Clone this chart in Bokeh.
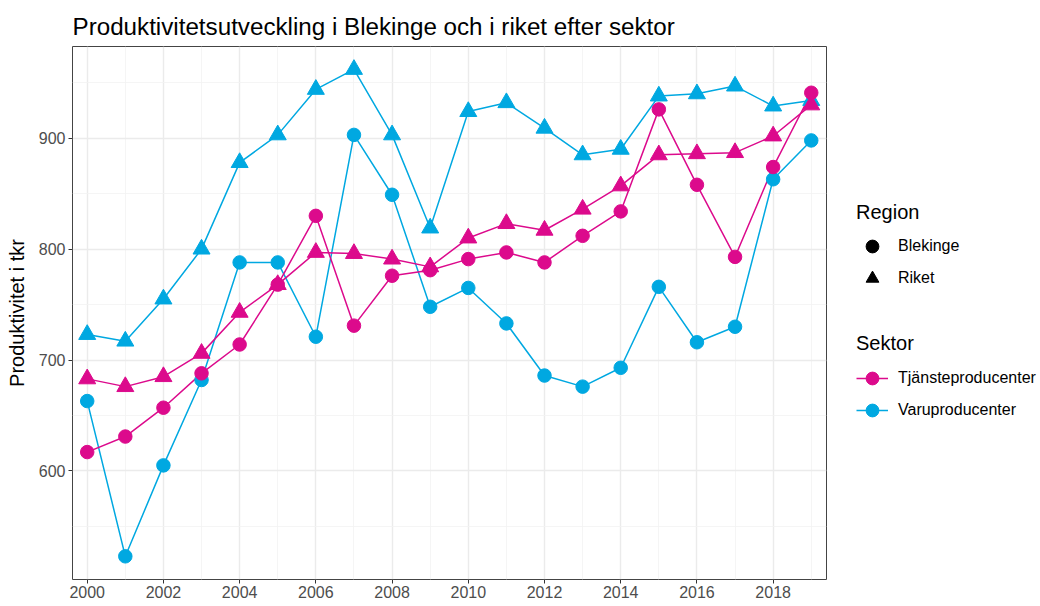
from bokeh.plotting import figure
from bokeh.models import (Range1d, FixedTicker, Legend, LegendItem, ColumnDataSource)
from bokeh.layouts import row
from bokeh.embed import file_html
from bokeh.resources import INLINE

# ---------------- data ----------------
years = list(range(2000, 2020))
varu_riket = [723, 717, 755, 800, 878, 903, 944, 962, 903, 819,
              924, 932, 909, 885, 890, 938, 940, 947, 929, 934]
varu_blekinge = [663, 523, 605, 682, 788, 788, 721, 903, 849, 748,
                 765, 733, 686, 676, 693, 766, 716, 730, 863, 898]
tjanst_riket = [683, 676, 685, 706, 743, 768, 797, 796, 791, 784,
                810, 823, 817, 836, 857, 885, 886, 887, 902, 930]
tjanst_blekinge = [617, 631, 657, 688, 714, 768, 830, 731, 776, 781,
                   791, 797, 788, 812, 834, 926, 858, 793, 874, 941]

x_ticks = [2000, 2002, 2004, 2006, 2008, 2010, 2012, 2014, 2016, 2018]
x_minor = [2001, 2003, 2005, 2007, 2009, 2011, 2013, 2015, 2017, 2019]
y_ticks = [600, 700, 800, 900]
y_minor = [550, 650, 750, 850, 950]

title_text = "Produktivitetsutveckling i Blekinge och i riket efter sektor"
y_label = "Produktivitet i tkr"
region_title = "Region"
region_labels = ["Blekinge", "Riket"]
sektor_title = "Sektor"
sektor_labels = ["Tjänsteproducenter", "Varuproducenter"]

PINK = "#DC0A8C"
BLUE = "#00A8E1"
FONT = "Liberation Sans"
H = 605

# ---------------- main figure ----------------
p = figure(width=838, height=H, output_backend="svg", toolbar_location=None,
           x_range=Range1d(1999.614, 2019.40), y_range=Range1d(502.1, 982.7),
           min_border_left=72, min_border_right=12, min_border_top=46,
           min_border_bottom=H - 579)

p.title.text = title_text
p.title.text_font = FONT
p.title.text_font_size = "24.2px"
p.title.text_font_style = "normal"
p.title.text_color = "black"
p.title.align = "left"
p.title.offset = 0
p.title.standoff = 13

p.outline_line_color = "#444444"
p.outline_line_width = 1
p.background_fill_color = "white"

for ax in (p.xaxis[0], p.yaxis[0]):
    ax.axis_line_color = None
    ax.major_tick_line_color = "#333333"
    ax.major_tick_line_width = 1
    ax.major_tick_out = 4
    ax.major_tick_in = 0
    ax.minor_tick_line_color = None
    ax.major_label_text_font = FONT
    ax.major_label_text_font_size = "16px"
    ax.major_label_text_color = "#4D4D4D"
    ax.major_label_standoff = 3
p.xaxis.major_label_standoff = 2

p.xaxis.ticker = FixedTicker(ticks=x_ticks, minor_ticks=x_minor)
p.yaxis.ticker = FixedTicker(ticks=y_ticks, minor_ticks=y_minor)

p.yaxis.axis_label = y_label
p.yaxis.axis_label_text_font = FONT
p.yaxis.axis_label_text_font_size = "20px"
p.yaxis.axis_label_text_font_style = "normal"
p.yaxis.axis_label_text_color = "black"
p.yaxis.axis_label_standoff = 8

for g in (p.xgrid[0], p.ygrid[0]):
    g.grid_line_color = "#EBEBEB"
    g.grid_line_width = 1.4
    g.minor_grid_line_color = "#F2F2F2"
    g.minor_grid_line_width = 0.8

src = ColumnDataSource(dict(year=years, vr=varu_riket, vb=varu_blekinge,
                            tr=tjanst_riket, tb=tjanst_blekinge))

LW = 1.5
p.line("year", "vr", source=src, line_color=BLUE, line_width=LW)
p.line("year", "vb", source=src, line_color=BLUE, line_width=LW)
p.line("year", "tr", source=src, line_color=PINK, line_width=LW)
p.line("year", "tb", source=src, line_color=PINK, line_width=LW)

CS, TS = 13.5, 17
p.scatter("year", "vr", source=src, marker="triangle", size=TS,
          fill_color=BLUE, line_color=BLUE)
p.scatter("year", "vb", source=src, marker="circle", size=CS,
          fill_color=BLUE, line_color=BLUE)
p.scatter("year", "tr", source=src, marker="triangle", size=TS,
          fill_color=PINK, line_color=PINK)
p.scatter("year", "tb", source=src, marker="circle", size=CS,
          fill_color=PINK, line_color=PINK)

# ---------------- legend figure ----------------
lg = figure(width=1040 - 838, height=H, output_backend="svg", toolbar_location=None,
            x_range=Range1d(0, 1), y_range=Range1d(0, 1),
            x_axis_location=None, y_axis_location=None,
            min_border=0, min_border_left=0, min_border_right=0,
            min_border_top=0, min_border_bottom=0)
lg.outline_line_color = None
lg.xgrid.visible = False
lg.ygrid.visible = False

d_circ = lg.scatter([-5], [-5], marker="circle", fill_color="black", line_color="black")
d_tri = lg.scatter([-5], [-5], marker="triangle", fill_color="black", line_color="black")
d_pl = lg.line([-5, -4], [-5, -5], line_color=PINK, line_width=LW)
d_pc = lg.scatter([-5], [-5], marker="circle", fill_color=PINK, line_color=PINK)
d_bl = lg.line([-5, -4], [-5, -5], line_color=BLUE, line_width=LW)
d_bc = lg.scatter([-5], [-5], marker="circle", fill_color=BLUE, line_color=BLUE)


def style_legend(L, standoff):
    L.title_text_font = FONT
    L.title_text_font_size = "20px"
    L.title_text_font_style = "normal"
    L.title_text_color = "black"
    L.title_standoff = standoff
    L.label_text_font = FONT
    L.label_text_font_size = "16px"
    L.label_text_color = "black"
    L.glyph_width = 32
    L.glyph_height = 32
    L.label_height = 32
    L.label_standoff = 10
    L.spacing = 0
    L.padding = 0
    L.margin = 0
    L.border_line_color = None
    L.background_fill_alpha = 0


leg1 = Legend(items=[LegendItem(label=region_labels[0], renderers=[d_circ]),
                     LegendItem(label=region_labels[1], renderers=[d_tri])],
              title=region_title, location=(18, H - 278 - 42))
style_legend(leg1, 6)
leg2 = Legend(items=[LegendItem(label=sektor_labels[0], renderers=[d_pl, d_pc]),
                     LegendItem(label=sektor_labels[1], renderers=[d_bl, d_bc])],
              title=sektor_title, location=(18, H - 410 - 42))
style_legend(leg2, 7)
lg.add_layout(leg1)
lg.add_layout(leg2)

layout = row(p, lg, spacing=0)

open("out.html", "w").write(file_html(layout, INLINE))
